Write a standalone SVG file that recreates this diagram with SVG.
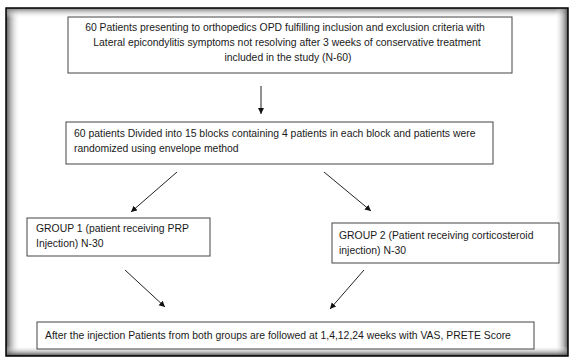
<svg xmlns="http://www.w3.org/2000/svg" width="571" height="358" viewBox="0 0 571 358">
<style>
.box{fill:#fff;stroke:#444;stroke-width:1}
.t{font-family:"Liberation Sans",Arial,sans-serif;font-size:10.4px;fill:#1a1a1a}
.c{text-anchor:middle}
.con{stroke:#222;stroke-width:1;fill:none;marker-end:url(#ah)}
</style>
<defs>
<marker id="ah" markerWidth="8" markerHeight="8" refX="6" refY="3" orient="auto" markerUnits="userSpaceOnUse">
<path d="M0,0 L6,3 L0,6 Z" fill="#111"/>
</marker>
<linearGradient id="gl" x1="0" y1="0" x2="1" y2="0"><stop offset="0" stop-color="#555"/><stop offset="1" stop-color="#fff" stop-opacity="0"/></linearGradient>
<linearGradient id="gt" x1="0" y1="0" x2="0" y2="1"><stop offset="0" stop-color="#777"/><stop offset="1" stop-color="#fff" stop-opacity="0"/></linearGradient>
<linearGradient id="gr" x1="1" y1="0" x2="0" y2="0"><stop offset="0" stop-color="#555"/><stop offset="1" stop-color="#fff" stop-opacity="0"/></linearGradient>
<linearGradient id="gb" x1="0" y1="1" x2="0" y2="0"><stop offset="0" stop-color="#444"/><stop offset="1" stop-color="#fff" stop-opacity="0"/></linearGradient>
</defs>
<rect width="571" height="358" fill="#fff"/>
<g id="frame">
<rect x="6" y="8" width="562" height="348" fill="#fff"/>
<rect x="6" y="8" width="14" height="348" fill="url(#gl)"/>
<rect x="6" y="8" width="562" height="10" fill="url(#gt)"/>
<rect x="555" y="8" width="13" height="348" fill="url(#gr)"/>
<rect x="6" y="346" width="562" height="10" fill="url(#gb)"/>
<rect x="6" y="8" width="562" height="348" fill="none" stroke="#000" stroke-width="1.5"/>
</g>
<g id="n1">
<rect class="box" x="68" y="17" width="444" height="56"/>
<text class="t c" x="285" y="31">60 Patients presenting to orthopedics OPD fulfilling inclusion and exclusion criteria with</text>
<text class="t c" x="287" y="46">Lateral epicondylitis symptoms not resolving after 3 weeks of conservative treatment</text>
<text class="t c" x="288" y="61">included in the study (N-60)</text>
</g>
<g id="n2">
<rect class="box" x="66" y="122" width="427" height="42"/>
<text class="t" x="74" y="137">60 patients Divided into 15 blocks containing 4 patients in each block and patients were</text>
<text class="t" x="74" y="152">randomized using envelope method</text>
</g>
<g id="n3">
<rect class="box" x="27" y="218" width="183" height="38"/>
<text class="t" x="36" y="232">GROUP 1 (patient receiving PRP</text>
<text class="t" x="36" y="247">Injection) N-30</text>
</g>
<g id="n4">
<rect class="box" x="332" y="223" width="227" height="40"/>
<text class="t" x="339" y="239">GROUP 2 (Patient receiving corticosteroid</text>
<text class="t" x="339" y="254">injection) N-30</text>
</g>
<g id="n5">
<rect class="box" x="37" y="322" width="497" height="27"/>
<text class="t" x="45" y="339">After the injection Patients from both groups are followed at 1,4,12,24 weeks with VAS, PRETE Score</text>
</g>
<g id="connectors">
<line class="con" x1="261" y1="86" x2="261" y2="114"/>
<line class="con" x1="177" y1="172" x2="131" y2="212"/>
<line class="con" x1="324" y1="172" x2="371" y2="211"/>
<line class="con" x1="125" y1="270" x2="165" y2="307"/>
<line class="con" x1="364" y1="270" x2="330" y2="309"/>
</g>
</svg>
